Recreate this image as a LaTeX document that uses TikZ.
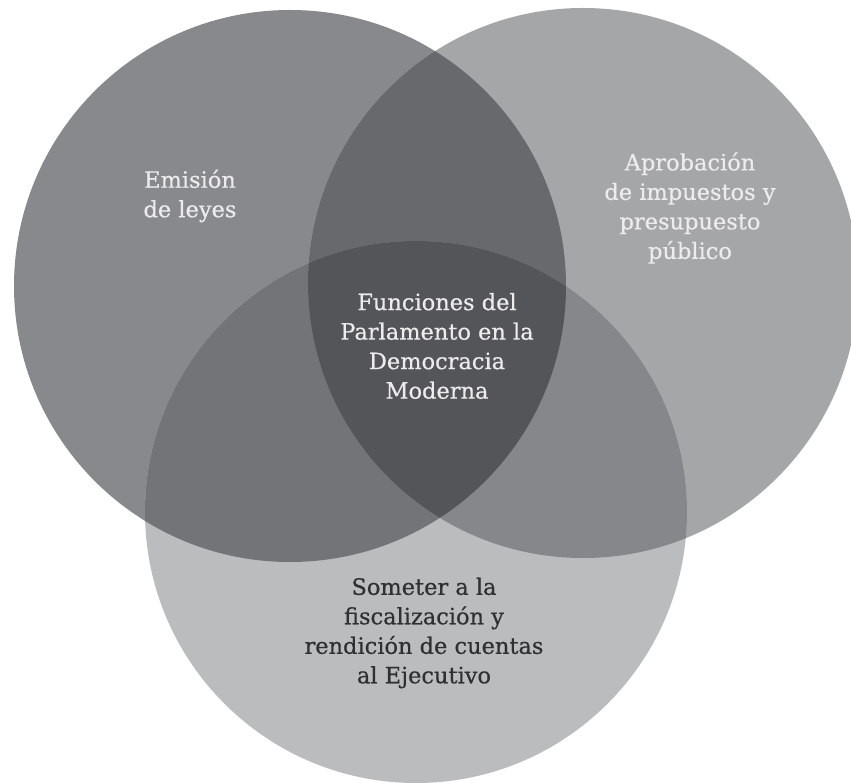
\documentclass[tikz,border=0pt]{standalone}
\usepackage{fontspec}
\setmainfont{DejaVu Serif}
\newfontfamily\labelfont{DejaVu Serif}[FakeBold=0.5]
\begin{document}
\begin{tikzpicture}[x=1pt,y=-1pt,
  lbl/.style={align=center,font=\labelfont\fontsize{22.5}{29.5}\selectfont,inner sep=0pt},
  light/.style={lbl,text=txtlight},
  dark/.style={lbl,text=txtdark}]
\definecolor{cA}{HTML}{87898C}
\definecolor{cB}{HTML}{A4A6A8}
\definecolor{cC}{HTML}{BABCBE}
\definecolor{cAB}{HTML}{68696C}
\definecolor{cAC}{HTML}{727477}
\definecolor{cBC}{HTML}{85878A}
\definecolor{cABC}{HTML}{545559}
\definecolor{txtlight}{HTML}{ECECEC}
\definecolor{txtdark}{HTML}{2F3032}
\useasboundingbox (0,0) rectangle (851,783);
\def\circA{(290,286) circle (276)}
\def\circB{(583,283) circle (275)}
\def\circC{(416,512) circle (271)}
% single sets
\fill[cA] \circA;
\fill[cB] \circB;
\fill[cC] \circC;
% pairwise overlaps
\begin{scope}
  \clip \circA;
  \fill[cAB] \circB;
  \fill[cAC] \circC;
\end{scope}
\begin{scope}
  \clip \circB;
  \fill[cBC] \circC;
\end{scope}
% common core
\begin{scope}
  \clip \circA;
  \clip \circB;
  \fill[cABC] \circC;
\end{scope}
% labels
\node[light] (leyes) at (190,196) {Emisión\\de leyes};
\node[light] (impuestos) at (690,208) {Aprobación\\de impuestos y\\presupuesto\\público};
\node[light] (centro) at (437,346) {Funciones del\\Parlamento en la\\Democracia\\Moderna};
\node[dark] (control) at (424,633) {Someter a la\\fiscalización y\\rendición de cuentas\\al Ejecutivo};
\end{tikzpicture}
\end{document}
